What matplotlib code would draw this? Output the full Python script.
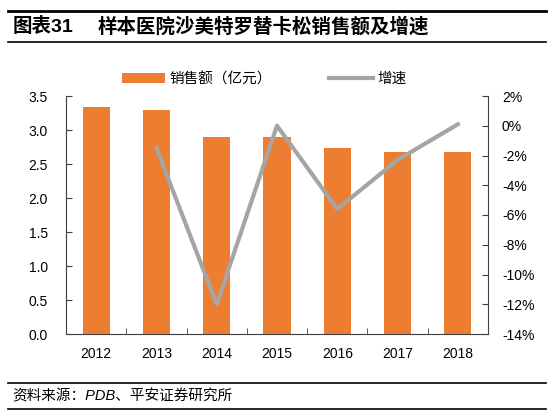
import matplotlib
matplotlib.use("Agg")
import matplotlib.pyplot as plt
import numpy as np
from matplotlib.ticker import FixedLocator, FuncFormatter

plt.rcParams['font.family'] = ['Liberation Sans', 'Noto Sans CJK SC', 'DejaVu Sans']

years = ["2012", "2013", "2014", "2015", "2016", "2017", "2018"]
sales = [3.34, 3.29, 2.90, 2.90, 2.74, 2.68, 2.68]  # 亿元
growth = [None, -1.5, -12.0, 0.0, -5.6, -2.3, 0.1]  # %

orange = '#ED7D31'
gray = '#A5A5A5'

fig = plt.figure(figsize=(5.54, 4.16), dpi=100)
ax = fig.add_axes([66 / 554, 1 - 334 / 416, (488 - 66) / 554, (334 - 96) / 416])

x = np.arange(len(years))
ax.bar(x, sales, width=0.45, color=orange, label='销售额（亿元）', zorder=2)
ax.set_xlim(-0.5, len(years) - 0.5)
ax.set_ylim(0, 3.5)
ax.set_yticks(np.arange(0, 3.51, 0.5))
ax.yaxis.set_major_formatter(FuncFormatter(lambda v, p: f"{v:.1f}"))
ax.set_xticks(x)
ax.set_xticklabels(years)
ax.xaxis.set_minor_locator(FixedLocator(np.arange(-0.5, len(years), 1.0)))
ax.tick_params(axis='x', which='major', length=0, labelsize=10, pad=9)
ax.tick_params(axis='x', which='minor', direction='in', length=4, color='#404040')
ax.tick_params(axis='y', direction='in', length=4, labelsize=10, color='#404040', pad=13)
ax.spines['top'].set_visible(False)
ax.spines['right'].set_visible(False)
for s in ['left', 'bottom']:
    ax.spines[s].set_color('#404040')

ax2 = ax.twinx()
gx = [i for i, g in enumerate(growth) if g is not None]
gy = [g for g in growth if g is not None]
ax2.plot(gx, gy, color=gray, linewidth=3, label='增速', zorder=3)
ax2.set_ylim(-14, 2)
ax2.set_yticks(np.arange(-14, 2.1, 2))
ax2.yaxis.set_major_formatter(FuncFormatter(lambda v, p: f"{v:.0f}%"))
ax2.tick_params(axis='y', direction='in', length=4, labelsize=10, color='#404040', pad=10)
ax2.spines['top'].set_visible(False)
ax2.spines['left'].set_visible(False)
ax2.spines['bottom'].set_visible(False)
ax2.spines['right'].set_color('#404040')

h1, l1 = ax.get_legend_handles_labels()
h2, l2 = ax2.get_legend_handles_labels()
fig.legend(h1 + h2, l1 + l2, loc='center', bbox_to_anchor=(0.4765, 1 - 79 / 416),
           ncol=2, frameon=False, fontsize=10.5, handlelength=3, columnspacing=3.9,
           handletextpad=0.3)

# title and source with rules
fig.add_artist(plt.Line2D([8 / 554, 546 / 554], [1 - 11 / 416] * 2, color='black', lw=2))
fig.add_artist(plt.Line2D([8 / 554, 546 / 554], [1 - 42 / 416] * 2, color='black', lw=1.2))
fig.text(13 / 554, 1 - 27 / 416, '图表31', fontsize=14, fontweight='bold', va='center')
fig.text(98 / 554, 1 - 27 / 416, '样本医院沙美特罗替卡松销售额及增速', fontsize=14,
         fontweight='bold', va='center')

fig.add_artist(plt.Line2D([8 / 554, 546 / 554], [1 - 383 / 416] * 2, color='black', lw=1.2))
fig.add_artist(plt.Line2D([8 / 554, 546 / 554], [1 - 409 / 416] * 2, color='black', lw=1.2))
fig.text(12 / 554, 1 - 396 / 416, '资料来源：PDB、平安证券研究所', fontsize=10.5,
         style='italic', va='center')

fig.savefig('out.png', dpi=100)
